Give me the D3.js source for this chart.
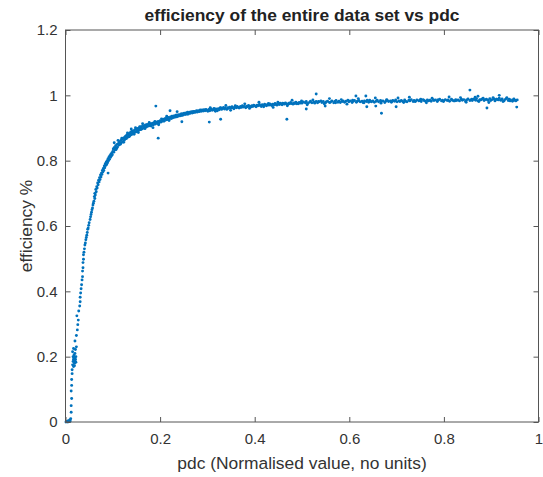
<!DOCTYPE html>
<html>
<head>
<meta charset="utf-8">
<script src="https://cdn.jsdelivr.net/npm/d3@7"></script>
<style>
  html, body { margin: 0; padding: 0; background: #ffffff; }
  svg { display: block; font-family: "Liberation Sans", Arial, Helvetica, sans-serif; }
</style>
</head>
<body>
<svg id="chart" width="543" height="477"></svg>
<script>
// ---------------- data ----------------
const chartTitle = "efficiency of the entire data set vs pdc";
const xLabel = "pdc (Normalised value, no units)";
const yLabel = "efficiency %";

const xTicks = [0, 0.2, 0.4, 0.6, 0.8, 1];
const xTickLabels = ["0", "0.2", "0.4", "0.6", "0.8", "1"];
const yTicks = [0, 0.2, 0.4, 0.6, 0.8, 1, 1.2];
const yTickLabels = ["0", "0.2", "0.4", "0.6", "0.8", "1", "1.2"];

const pdc = [
  0.001,0.003,0.005,0.006,0.008,0.009,0.010,0.011,
  0.012,0.012,0.013,0.012,0.013,0.013,0.014,0.014,
  0.015,0.016,0.016,0.017,0.017,0.018,0.018,0.019,0.019,0.020,
  0.020,0.021,0.021,0.022,0.015,0.017,0.019,0.022,0.023,0.018,
  0.020,0.023,0.025,0.026,0.024,0.027,0.028,0.030,0.031,0.031,0.032,0.033,0.034,0.035,
  0.036,0.036,0.037,0.037,0.038,0.038,0.039,0.040,0.041,0.042,
  0.043,0.044,0.045,0.046,0.047,0.048,0.049,0.050,0.052,0.053,
  0.054,0.055,0.056,0.057,0.058,0.059,
  0.060,0.061,0.062,0.062,0.063,0.064,0.065,0.066,0.067,0.068,
  0.069,0.070,0.071,0.072,0.073,0.074,0.075,0.076,0.077,0.078,
  0.079,0.080,0.081,0.082,0.083,0.084,0.085,0.086,0.087,0.088,
  0.089,0.090,0.091,0.092,0.093,0.094,0.095,0.096,0.097,0.098,
  0.099,0.100,
  0.101,0.102,0.104,0.105,0.106,0.108,0.109,0.110,0.112,0.113,
  0.114,0.116,0.117,0.118,0.120,0.121,0.122,0.124,0.125,0.126,
  0.128,0.129,0.130,0.132,0.133,0.134,0.136,0.137,0.138,0.140,
  0.141,0.143,0.144,0.146,0.147,0.149,0.150,0.152,0.153,0.155,
  0.156,0.158,0.159,0.161,0.162,0.164,0.166,0.167,0.169,0.171,
  0.172,0.174,0.176,0.178,0.180,0.182,0.184,0.186,0.188,0.190,
  0.192,0.194,0.196,0.198,0.200,
  0.202,0.204,0.205,0.207,0.209,0.211,0.213,0.215,0.216,0.218,
  0.220,0.222,0.224,0.225,0.227,0.229,0.231,0.233,0.235,0.236,
  0.238,0.240,0.242,0.244,0.246,0.247,0.249,0.251,0.253,0.255,
  0.257,0.258,0.260,0.262,0.264,0.266,0.268,0.270,0.271,0.273,
  0.275,0.277,0.279,0.281,0.283,0.285,0.287,0.289,0.291,0.293,
  0.295,0.297,0.299,
  0.301,0.303,0.305,0.308,0.310,0.312,0.314,0.316,0.318,0.321,
  0.323,0.325,0.327,0.330,0.332,0.334,0.336,0.338,0.341,0.343,
  0.345,0.347,0.350,0.352,0.354,0.356,0.358,0.361,0.363,0.365,
  0.367,0.370,0.372,0.374,0.376,0.378,0.381,0.383,0.385,0.387,
  0.390,0.392,0.394,0.396,0.398,0.401,0.403,0.405,0.407,0.410,
  0.412,0.414,0.416,0.418,0.421,0.423,0.425,0.427,0.430,0.432,
  0.434,0.436,0.438,0.441,0.443,0.445,0.447,0.450,0.452,0.454,
  0.456,0.458,0.461,0.463,0.465,0.467,0.470,0.472,0.474,0.476,
  0.478,0.481,0.483,0.485,0.487,0.490,0.492,0.494,0.496,0.498,
  0.500,0.503,0.507,0.509,0.512,0.516,0.518,0.521,0.525,0.527,
  0.530,0.533,0.536,0.540,0.542,0.545,0.549,0.551,0.554,0.558,
  0.560,0.563,0.567,0.569,0.572,0.576,0.578,0.581,0.585,0.587,
  0.590,0.593,0.597,0.599,0.602,0.606,0.608,0.611,0.615,0.617,
  0.620,0.623,0.627,0.629,0.632,0.636,0.638,0.641,0.645,0.647,
  0.650,0.653,0.657,0.659,0.662,0.666,0.668,0.671,0.675,0.677,
  0.680,0.683,0.687,0.689,0.692,0.696,0.698,0.701,0.705,0.707,
  0.710,0.713,0.717,0.719,0.722,0.726,0.728,0.731,0.735,0.737,
  0.740,0.743,0.747,0.749,0.752,0.756,0.758,0.761,0.765,0.767,
  0.770,0.773,0.777,0.779,0.782,0.786,0.788,0.791,0.795,0.797,
  0.800,0.803,0.807,0.809,0.812,0.816,0.818,0.821,0.825,0.827,
  0.830,0.833,0.837,0.839,0.842,0.846,0.848,0.851,0.855,0.857,
  0.860,0.863,0.867,0.869,0.872,0.876,0.878,0.881,0.885,0.887,
  0.890,0.893,0.897,0.899,0.902,0.906,0.908,0.911,0.915,0.917,
  0.920,0.923,0.927,0.929,0.932,0.936,0.938,0.941,0.945,0.947,
  0.950,0.952,0.955,
  0.103,0.107,0.111,0.115,0.119,0.123,0.127,0.131,0.135,0.139,
  0.142,0.145,0.148,0.151,0.154,0.157,0.160,0.163,0.168,0.173,
  0.177,0.181,0.185,0.189,0.193,0.197,0.203,0.208,0.214,0.219,
  0.306,0.317,0.328,0.339,0.349,0.359,0.369,0.379,0.389,0.399,
  0.409,0.419,0.429,0.439,0.449,0.459,0.469,0.479,0.489,0.499,
  0.511,0.523,0.535,0.547,0.558,0.571,0.583,0.595,0.607,0.619,
  0.631,0.643,0.655,0.667,0.679,0.691,0.703,0.715,0.727,0.739,
  0.751,0.763,0.775,0.787,0.799,0.811,0.823,0.835,0.847,0.859,
  0.866,0.874,0.883,0.895,0.904,0.912,0.925,0.933,0.940,0.948,
  0.090,0.103,0.191,0.196,0.221,0.236,0.246,0.304,0.328,0.468,
  0.509,0.530,0.549,0.614,0.635,0.637,0.656,0.668,0.699,0.855,
  0.891,0.954,0.917,0.872
];

const efficiency = [
  0.000,0.002,0.000,0.004,0.001,0.006,0.003,0.010,
  0.030,0.050,0.072,0.095,0.112,0.130,0.148,0.160,
  0.175,0.185,0.200,0.170,0.192,0.186,0.205,0.180,0.195,0.188,
  0.210,0.192,0.222,0.200,0.215,0.225,0.172,0.183,0.230,0.198,
  0.248,0.265,0.282,0.298,0.325,0.312,0.340,0.355,0.368,0.382,0.395,0.408,0.420,0.435,
  0.445,0.462,0.472,0.488,0.498,0.512,0.520,0.530,0.542,0.548,
  0.558,0.565,0.572,0.580,0.590,0.594,0.602,0.610,0.620,0.628,
  0.635,0.642,0.650,0.655,0.664,0.670,
  0.676,0.690,0.684,0.700,0.695,0.712,0.705,0.720,0.716,0.732,
  0.726,0.740,0.735,0.748,0.742,0.756,0.750,0.762,0.758,0.770,
  0.765,0.776,0.770,0.784,0.778,0.790,0.785,0.795,0.788,0.800,
  0.794,0.806,0.800,0.811,0.804,0.815,0.810,0.820,0.814,0.824,
  0.818,0.828,
  0.836,0.826,0.840,0.833,0.846,0.838,0.850,0.842,0.853,0.848,
  0.858,0.850,0.862,0.855,0.866,0.858,0.869,0.862,0.872,0.866,
  0.876,0.868,0.879,0.872,0.882,0.875,0.884,0.878,0.888,0.880,
  0.890,0.883,0.892,0.886,0.895,0.888,0.897,0.890,0.899,0.893,
  0.901,0.895,0.903,0.897,0.905,0.899,0.907,0.901,0.909,0.903,
  0.910,0.905,0.912,0.907,0.913,0.909,0.915,0.910,0.917,0.912,
  0.918,0.914,0.920,0.916,0.922,
  0.918,0.924,0.921,0.927,0.922,0.929,0.925,0.931,0.926,0.932,
  0.928,0.934,0.929,0.936,0.931,0.937,0.933,0.939,0.934,0.940,
  0.936,0.941,0.937,0.943,0.938,0.944,0.940,0.945,0.941,0.946,
  0.942,0.948,0.943,0.948,0.945,0.950,0.946,0.951,0.947,0.951,
  0.948,0.953,0.949,0.953,0.950,0.955,0.951,0.955,0.952,0.956,
  0.953,0.957,0.954,
  0.951,0.957,0.953,0.958,0.954,0.956,0.960,0.955,0.958,0.953,
  0.959,0.956,0.961,0.957,0.960,0.963,0.958,0.961,0.957,0.962,
  0.960,0.964,0.961,0.965,0.962,0.959,0.964,0.962,0.966,0.963,
  0.961,0.966,0.963,0.968,0.964,0.966,0.962,0.967,0.965,0.969,
  0.966,0.964,0.968,0.966,0.970,0.967,0.965,0.970,0.968,0.972,
  0.968,0.966,0.971,0.969,0.973,0.970,0.968,0.972,0.970,0.974,
  0.971,0.969,0.973,0.971,0.975,0.972,0.970,0.974,0.972,0.976,
  0.973,0.971,0.975,0.973,0.977,0.974,0.972,0.976,0.974,0.978,
  0.975,0.973,0.977,0.975,0.979,0.976,0.974,0.978,0.976,0.979,
  0.976,0.980,0.977,0.981,0.975,0.979,0.982,0.977,0.980,0.976,
  0.981,0.977,0.980,0.983,0.978,0.981,0.976,0.980,0.982,0.978,
  0.979,0.983,0.977,0.981,0.984,0.979,0.982,0.978,0.981,0.983,
  0.979,0.982,0.985,0.980,0.983,0.978,0.982,0.984,0.979,0.982,
  0.984,0.980,0.982,0.978,0.983,0.981,0.985,0.979,0.982,0.980,
  0.983,0.979,0.982,0.985,0.980,0.984,0.981,0.983,0.978,0.982,
  0.985,0.981,0.983,0.979,0.984,0.982,0.986,0.980,0.983,0.981,
  0.984,0.981,0.986,0.982,0.980,0.985,0.983,0.987,0.981,0.984,
  0.982,0.986,0.983,0.985,0.981,0.987,0.984,0.982,0.986,0.983,
  0.985,0.982,0.987,0.984,0.986,0.981,0.985,0.988,0.983,0.985,
  0.983,0.987,0.984,0.986,0.982,0.988,0.985,0.983,0.987,0.984,
  0.986,0.983,0.988,0.985,0.987,0.982,0.986,0.989,0.984,0.986,
  0.984,0.988,0.985,0.990,0.983,0.987,0.986,0.989,0.984,0.987,
  0.988,0.985,0.990,0.984,0.987,0.989,0.983,0.988,0.986,0.991,
  0.985,0.989,0.983,0.987,0.990,0.984,0.988,0.986,0.982,0.987,
  0.985,0.983,0.986,
  0.840,0.834,0.862,0.853,0.869,0.856,0.874,0.885,0.874,0.897,
  0.884,0.881,0.901,0.895,0.886,0.904,0.896,0.913,0.898,0.910,
  0.917,0.906,0.901,0.920,0.918,0.910,0.928,0.921,0.936,0.923,
  0.962,0.951,0.962,0.969,0.954,0.968,0.963,0.974,0.960,0.969,
  0.979,0.965,0.975,0.963,0.979,0.976,0.968,0.985,0.974,0.983,
  0.971,0.986,0.981,0.974,0.990,0.977,0.987,0.973,0.985,0.990,
  0.977,0.985,0.992,0.976,0.987,0.982,0.992,0.978,0.994,0.981,
  0.988,0.977,0.991,0.986,0.981,0.995,0.983,0.993,0.979,0.988,
  0.994,0.981,0.991,0.978,0.993,0.988,0.981,0.993,0.983,0.989,
  0.762,0.855,0.967,0.869,0.953,0.950,0.919,0.918,0.927,0.927,
  0.958,1.004,0.967,0.998,0.998,0.965,0.967,0.945,0.965,1.016,
  0.961,0.964,1.000,0.997
];

// ---------------- drawing ----------------
const W = 543, H = 477;
const plot = { left: 65.5, right: 538.5, top: 30, bottom: 422 };
const textColor = "#333333";
const axisColor = "#555555";
const dotColor = "#0072BD";
const tickFont = 15, labelFont = 17.4;

const svg = d3.select("#chart");

const x = d3.scaleLinear().domain([0, 1]).range([plot.left, plot.right]);
const y = d3.scaleLinear().domain([0, 1.2]).range([plot.bottom, plot.top]);

const n = Math.min(pdc.length, efficiency.length);
const points = d3.range(n).map(i => ({ px: pdc[i], py: efficiency[i] }));

// data dots
svg.append("g")
  .selectAll("circle")
  .data(points)
  .join("circle")
  .attr("cx", d => x(d.px))
  .attr("cy", d => y(d.py))
  .attr("r", 1.45)
  .attr("fill", dotColor);

function styleAxis(g, showLabels) {
  g.select(".domain").remove();
  g.selectAll(".tick line").attr("stroke", axisColor).attr("stroke-width", 1);
  g.selectAll(".tick text")
    .attr("fill", textColor)
    .style("font-size", tickFont + "px")
    .style("font-family", '"Liberation Sans", Arial, sans-serif');
  if (!showLabels) g.selectAll(".tick text").remove();
}

// bottom axis (ticks point inward)
svg.append("g")
  .attr("transform", `translate(0,${plot.bottom})`)
  .call(d3.axisBottom(x).tickValues(xTicks)
    .tickFormat((d, i) => xTickLabels[i])
    .tickSizeInner(-5).tickSizeOuter(0).tickPadding(11))
  .call(g => styleAxis(g, true));

// top axis
svg.append("g")
  .attr("transform", `translate(0,${plot.top})`)
  .call(d3.axisTop(x).tickValues(xTicks).tickFormat("")
    .tickSizeInner(-5).tickSizeOuter(0))
  .call(g => styleAxis(g, false));

// left axis
svg.append("g")
  .attr("transform", `translate(${plot.left},0)`)
  .call(d3.axisLeft(y).tickValues(yTicks)
    .tickFormat((d, i) => yTickLabels[i])
    .tickSizeInner(-5).tickSizeOuter(0).tickPadding(8))
  .call(g => styleAxis(g, true));

// right axis
svg.append("g")
  .attr("transform", `translate(${plot.right},0)`)
  .call(d3.axisRight(y).tickValues(yTicks).tickFormat("")
    .tickSizeInner(-5).tickSizeOuter(0))
  .call(g => styleAxis(g, false));

// box
svg.append("rect")
  .attr("x", plot.left).attr("y", plot.top)
  .attr("width", plot.right - plot.left)
  .attr("height", plot.bottom - plot.top)
  .attr("fill", "none")
  .attr("stroke", axisColor)
  .attr("stroke-width", 1);

// title
svg.append("text")
  .attr("x", (plot.left + plot.right) / 2)
  .attr("y", 21)
  .attr("text-anchor", "middle")
  .attr("fill", "#222222")
  .style("font-size", labelFont + "px")
  .style("font-weight", "bold")
  .text(chartTitle);

// x label
svg.append("text")
  .attr("x", (plot.left + plot.right) / 2)
  .attr("y", 469)
  .attr("text-anchor", "middle")
  .attr("fill", textColor)
  .style("font-size", labelFont + "px")
  .text(xLabel);

// y label
svg.append("text")
  .attr("transform", `translate(32,${(plot.top + plot.bottom) / 2}) rotate(-90)`)
  .attr("text-anchor", "middle")
  .attr("fill", textColor)
  .style("font-size", labelFont + "px")
  .text(yLabel);
</script>
</body>
</html>
